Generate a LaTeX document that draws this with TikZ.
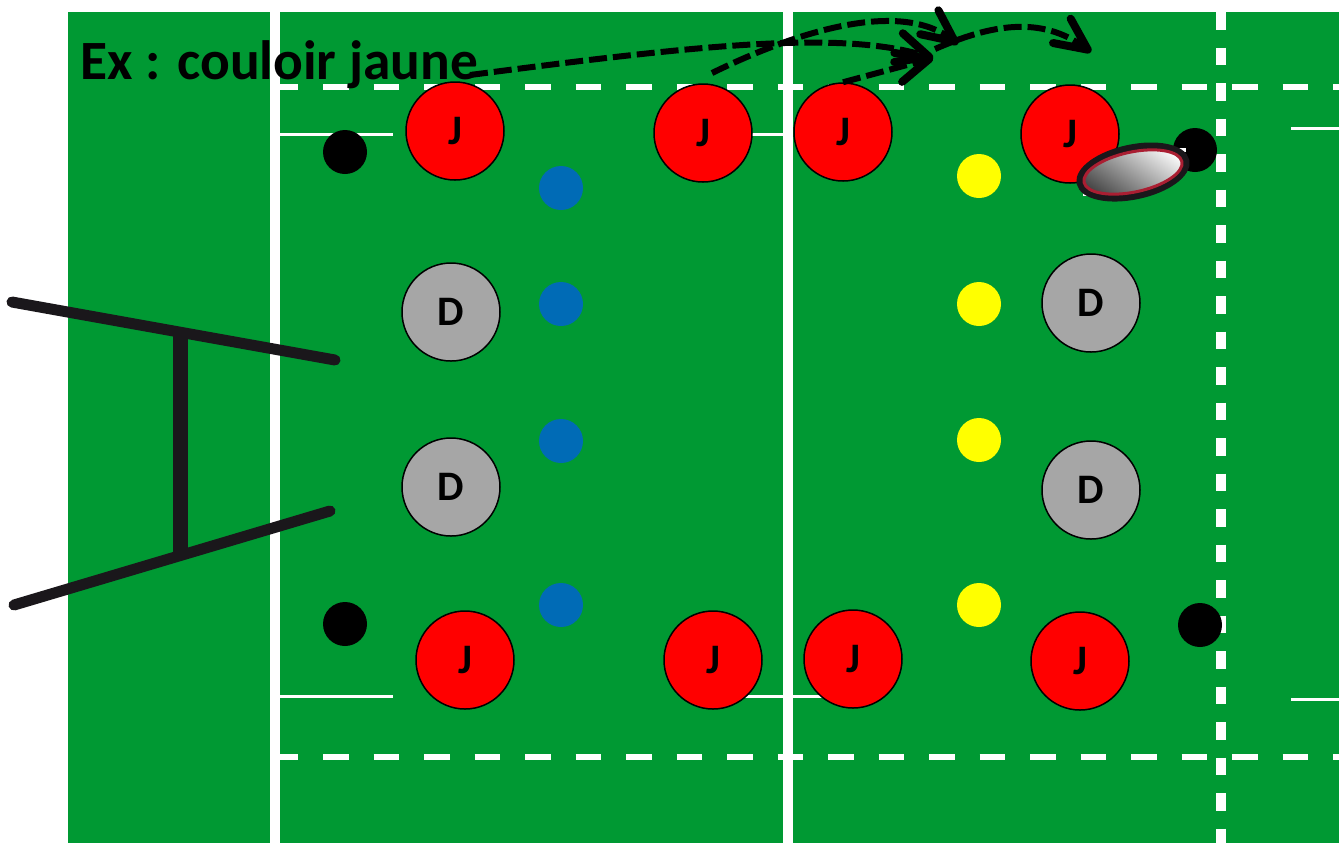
\documentclass[tikz,border=0pt]{standalone}
\usepackage{fontspec}
\setmainfont{Carlito}
\usetikzlibrary{arrows.meta,shapes.geometric}
\definecolor{pelouse}{RGB}{0,153,51}
\definecolor{poteau}{RGB}{26,23,27}
\definecolor{plotbleu}{RGB}{0,107,182}
\definecolor{plotjaune}{RGB}{255,255,0}
\definecolor{rouge}{RGB}{255,0,0}
\definecolor{gris}{RGB}{166,166,166}
\definecolor{couture}{RGB}{170,30,50}
\tikzset{
	joueur/.style={circle, draw=black, line width=0.75pt, minimum size=49pt, inner sep=0pt, font=\bfseries\fontsize{21}{21}\selectfont},
	plot/.style={circle, minimum size=22pt, inner sep=0pt},
	ligne/.style={white, line width=1.5pt},
	tirets/.style={white, line width=3pt, dash pattern=on 12.75pt off 12.5pt},
	passe/.style={line width=3pt, dash pattern=on 9pt off 3pt, -{Straight Barb[length=16pt,width=15pt,line width=4pt,round]}},
	barre/.style={poteau, line width=5.5pt, line cap=round}
}
\begin{document}
\begin{tikzpicture}[x=0.5pt,y=-0.5pt]
	\useasboundingbox (0,0) rectangle (1339,843);
	\fill[pelouse] (68,12) rectangle (1339,843);
	\foreach \y in {87,757}
	{
		\draw[tirets] (272.5,\y) -- (1339,\y);
	}
	\foreach \xa/\xb/\y in {280/393/134, 703/790/134, 280/393/696, 745/825/696, 1291/1339/128, 1291/1339/699}
	{
		\draw[ligne] (\xa,\y) -- (\xb,\y);
	}
	\draw[white, line width=5pt] (275,12) -- (275,843);
	\draw[white, line width=5pt] (788,12) -- (788,843);
	\draw[white, line width=5pt, dash pattern=on 8.75pt off 9pt] (1221,12) -- (1221,843);
	\draw[barre] (12,302) -- (335,360);
	\draw[barre] (14,605) -- (330,511);
	\draw[poteau, line width=7.5pt] (180,333) -- (180,555);
	\foreach \x/\y in {345/152, 345/624, 1195/150, 1200/625}
	{
		\node[plot, fill=black] at (\x,\y) {};
	}
	\foreach \y in {188,304,441,605}
	{
		\node[plot, fill=plotbleu] at (561,\y) {};
	}
	\foreach \y in {176,304,440,605}
	{
		\node[plot, fill=plotjaune] at (979,\y) {};
	}
	\foreach \i/\x/\y in {1/455/131, 2/703/133, 3/843/132, 4/1070/134, 5/465/660, 6/713/660, 7/853/659, 8/1080/661}
	{
		\node[joueur, fill=rouge] (j\i) at (\x,\y) {J};
	}
	\foreach \i/\x/\y in {1/451/312, 2/451/487, 3/1091/303, 4/1091/490}
	{
		\node[joueur, fill=gris] (d\i) at (\x,\y) {D};
	}
	\node[anchor=base west, inner sep=0pt, font=\bfseries\fontsize{27.7}{27.7}\selectfont] (titre) at (80,79) {Ex : couloir jaune};
	\fill[white] (1083,190) rectangle (1090,196);
	\fill[white] (1178,148) rectangle (1186,152);
	\node[ellipse, minimum width=54pt, minimum height=24pt, inner sep=0pt, rotate=12, draw=poteau, line width=3.5pt, bottom color=black!75, middle color=black!10, top color=white, shading angle=-35] (ballon) at (1133,172) {};
	\node[ellipse, minimum width=50pt, minimum height=20pt, inner sep=0pt, rotate=12, draw=couture, line width=1.5pt] (couture) at (ballon) {};
	\coordinate (a1) at (470,75);
	\coordinate (a2) at (712,73);
	\coordinate (a3) at (935,49);
	\coordinate (b1) at (933,58);
	\coordinate (b2) at (958,44);
	\coordinate (b3) at (1091,52);
	\draw[passe] (a1) .. controls (700,45) and (840,30) .. (b1);
	\draw[passe] (a2) .. controls (800,30) and (900,0) .. (b2);
	\draw[passe] (j3.north) -- (b1);
	\draw[passe] (a3) .. controls (990,25) and (1040,15) .. (b3);
\end{tikzpicture}
\end{document}
